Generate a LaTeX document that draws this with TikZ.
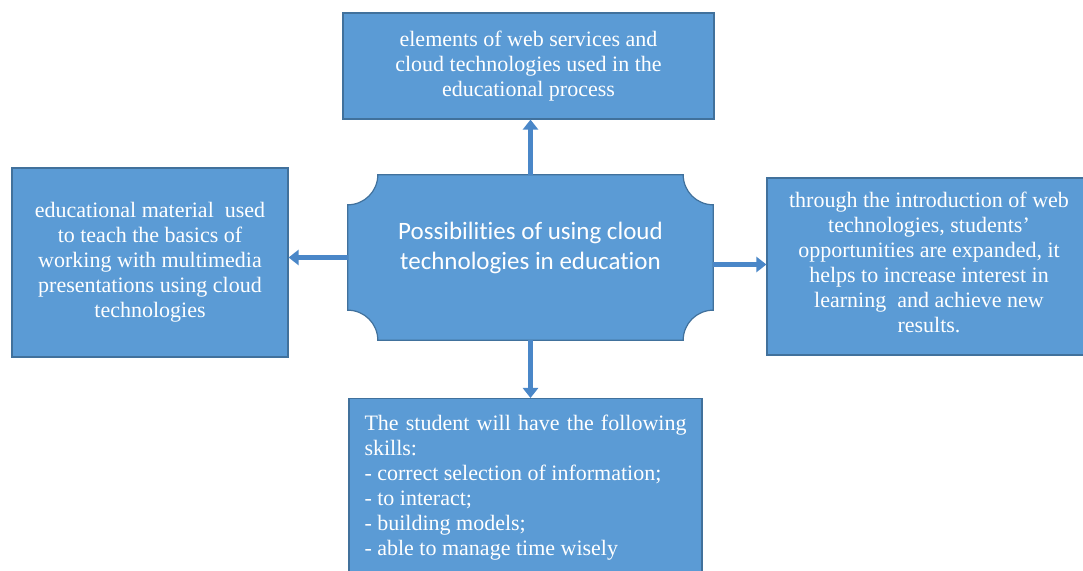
\documentclass[tikz,border=0pt]{standalone}
\usepackage{fontspec}
\setmainfont{Liberation Serif}
\newfontfamily\calibri[Ligatures=NoCommon]{Carlito}
\usepackage{tikz}
\usetikzlibrary{arrows.meta,positioning}
\definecolor{boxblue}{HTML}{5B9BD5}
\definecolor{boxline}{HTML}{41719C}
\definecolor{arrowblue}{HTML}{4A87C8}

\begin{document}
\begin{tikzpicture}[x=1pt, y=1pt,
  box/.style={rectangle, draw=boxline, line width=1.2pt, fill=boxblue, text=white,
    font=\fontsize{22}{25}\selectfont, align=center, inner sep=0pt},
  link/.style={draw=arrowblue, line width=5pt, -{Triangle[width=15pt, length=10pt]}}]
  \useasboundingbox (0,0) rectangle (1083,570);
  \clip (0,0) rectangle (1083,570);
    % centre plaque
    \node (centre) at (530.5,312.5) [minimum width=365pt, minimum height=165pt, inner sep=0pt] {};
    \draw[draw=boxline, line width=1.2pt, fill=boxblue]
      ([xshift=30pt]centre.north west) -- ([xshift=-30pt]centre.north east)
      arc[start angle=180, end angle=270, radius=30pt] -- ([yshift=30pt]centre.south east)
      arc[start angle=90, end angle=180, radius=30pt] -- ([xshift=30pt]centre.south west)
      arc[start angle=0, end angle=90, radius=30pt] -- ([yshift=-30pt]centre.north west)
      arc[start angle=270, end angle=360, radius=30pt] -- cycle;
    \node (idea) at ([yshift=10pt]centre.center) [text=white, align=center,
      font=\calibri\fontsize{25}{30}\selectfont] {Possibilities of using cloud\\technologies in education};
    % outer boxes
    \node (elements) at (528.5,504) [box, minimum width=371pt, minimum height=106pt]
      {elements of web services and\\cloud technologies used in the\\educational process};
    \node (material) at (150,307.5) [box, minimum width=276pt, minimum height=189pt]
      {educational material \ used\\to teach the basics of\\working with multimedia\\presentations using cloud\\technologies};
    \node (results) at (929,303.5) [box, minimum width=324pt, minimum height=177pt]
      {through the introduction of web\\technologies, students'\\opportunities are expanded, it\\helps to increase interest in\\learning \ and achieve new\\results.\\[-17pt]\mbox{}};
    \node (skills) at (525.5,172) [box, anchor=north, text width=322pt, align=justify,
      inner xsep=15.5pt, inner ysep=16pt]
      {The student will have the following skills:\\- correct selection of information;\\- to interact;\\- building models;\\- able to manage time wisely};
    % arrows
    \coordinate (east) at ([yshift=-7pt]centre.east);
    \draw[link] (centre.north) -- (centre.north |- elements.south);
    \draw[link] (centre.west) -- (centre.west -| material.east);
    \draw[link] (east) -- (east -| results.west);
    \draw[link] (centre.south) -- (centre.south |- skills.north);
\end{tikzpicture}
\end{document}
